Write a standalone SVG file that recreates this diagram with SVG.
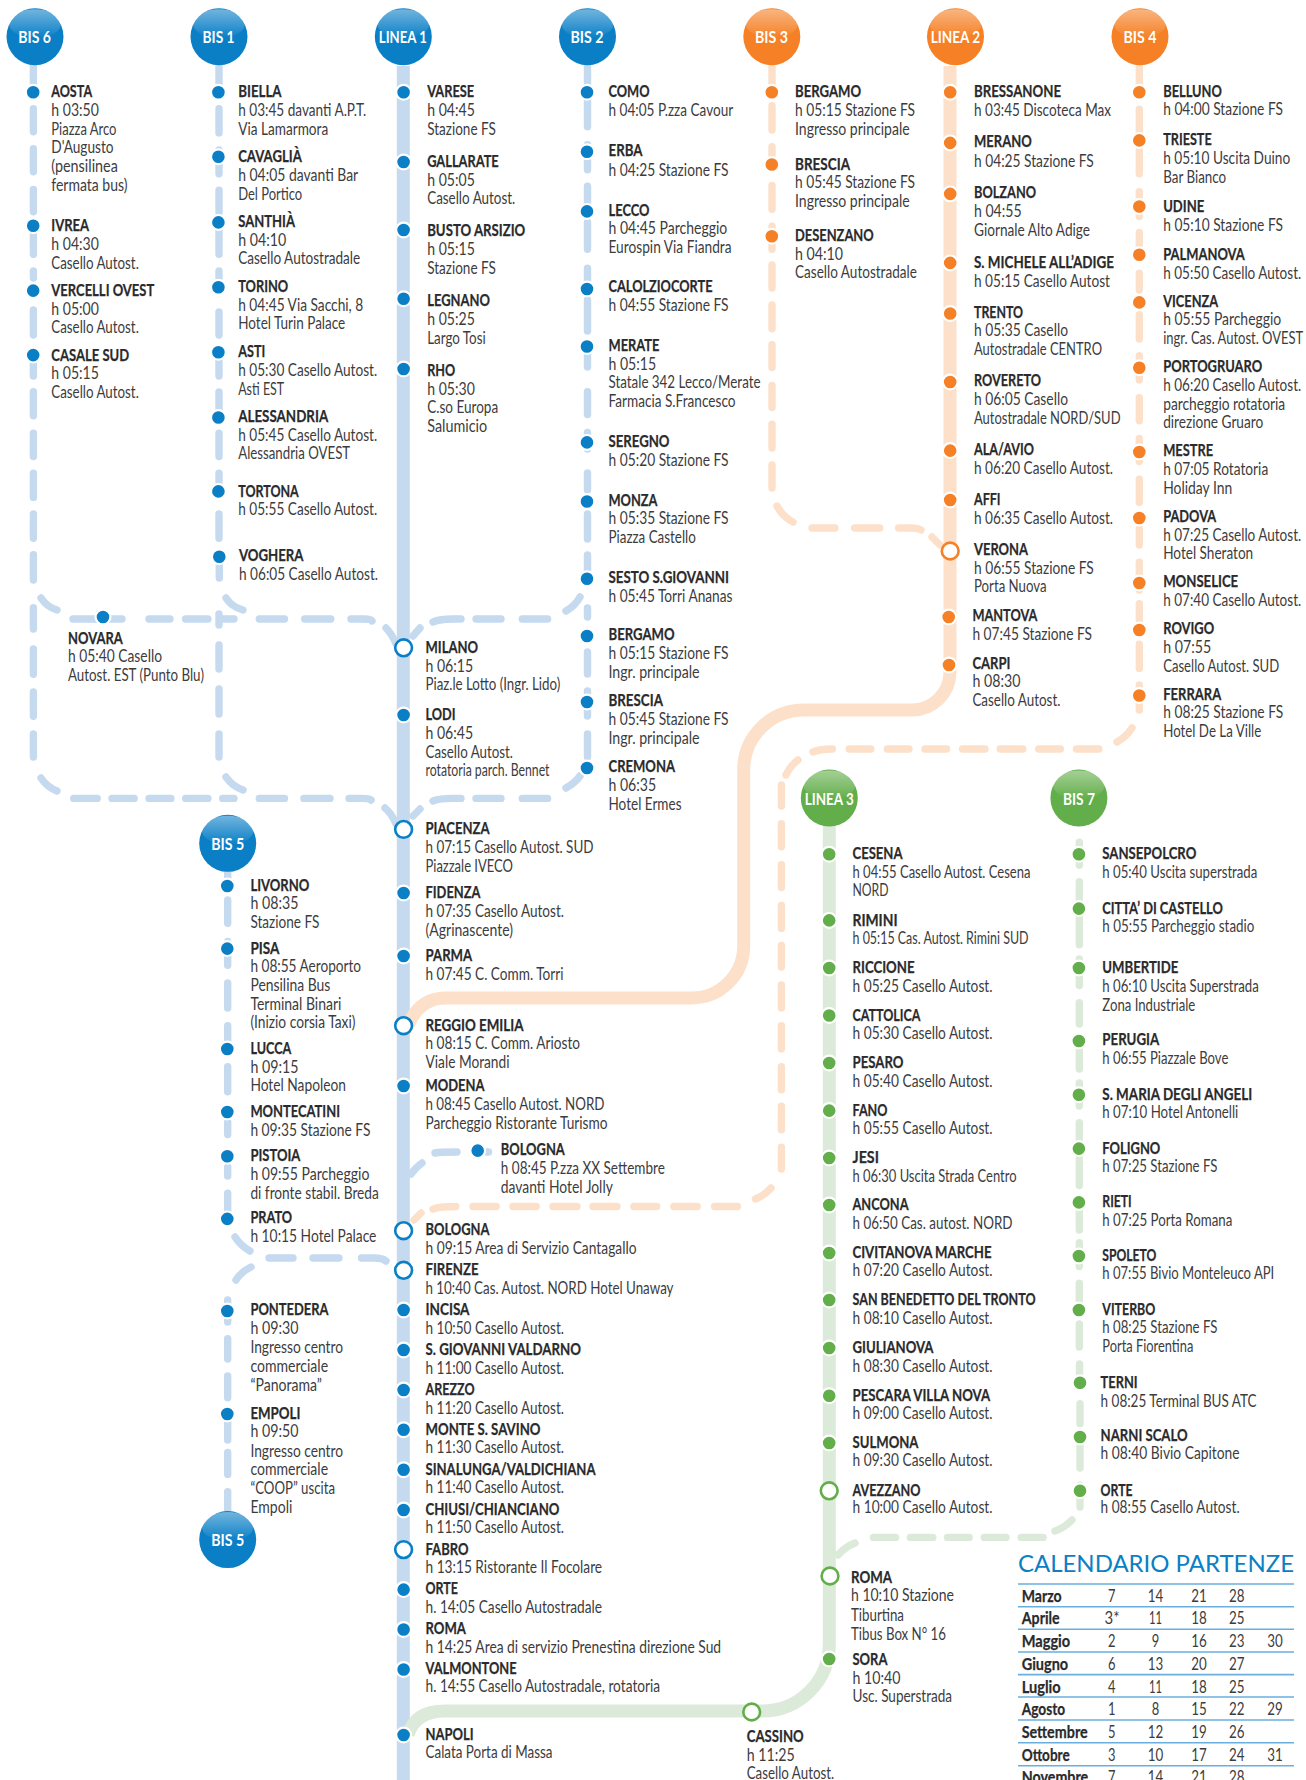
<svg xmlns="http://www.w3.org/2000/svg" width="1306" height="1780" viewBox="0 0 1306 1780">
<style>
text{font-family:Lato,"Open Sans","Liberation Sans",sans-serif;fill:#3c3c3e;font-size:17px;transform:translateY(-.5px)}
.n{font-weight:700;fill:#2a2a2c;stroke:#2a2a2c;stroke-width:.25}
.h{font-weight:700;fill:#fff;font-size:17.5px;text-anchor:middle}
.c{text-anchor:middle}
.dash,.solid{fill:none}
.dash{stroke-width:7.4;stroke-linecap:round;stroke-linejoin:round}
.solid{stroke-width:13}
.lb{stroke:#c5d9ef}.lo{stroke:#fde0c9}.lg{stroke:#dceada}
.b{fill:#0a7fc6}.o{fill:#f58025}.g{fill:#62ae4a}
.dot{stroke:#fff;stroke-width:2.2}
.ring{fill:#fff;stroke-width:2.6}
.rb{stroke:#0a7fc6}.ro{stroke:#f58025}.rg{stroke:#62ae4a}
.rule{stroke:#6aaee0;stroke-width:1.6}
</style>
<defs>
<linearGradient id="gl" x1="0" y1="0" x2="0" y2="1"><stop offset="0" stop-color="#fff" stop-opacity=".42"/><stop offset="1" stop-color="#fff" stop-opacity="0"/></linearGradient>
<g id="gloss"><ellipse cx="0" cy="-13" rx="26" ry="14.5" fill="url(#gl)"/></g>
</defs>
<g id="connectors">
<path class="solid lb" d="M403.3 66V1780"/>
<path class="solid lo" d="M950 66V672A38 38 0 0 1 912 710H803.7A60 60 0 0 0 743.7 770V946A52 52 0 0 1 691.7 998H445Q420 998 408 1025"/>
<path class="solid lg" d="M829.3 826V1644A67 67 0 0 1 762.3 1711H445Q415 1711 408 1735"/>
<path id="bis6" class="dash lb" d="M33.4 66V92M33.4 108.7V131.7M33.4 148.7V171.7M33.4 189.5V211.7M33.4 226V254.2M33.4 271V278M33.4 310V335M33.4 355V376M33.4 391.6V415.8M33.4 433.2V456.6M33.4 473.2V497.4M33.4 514V538.2M33.4 554.8V580M33.4 607.8V629M33.4 649V674.2M33.4 692V716.2M33.4 734V757M41 778Q47 787 57 791M41 598Q47 607 57 610"/>
<path id="top-h" class="dash lb" d="M73 619H122M149 619H170M185.6 619H207.9M222.7 619H234M259.3 619H284.5M304.7 619H330.8M351 619H364Q371 619 372 621M386 628Q392 634 396 644M413 636L420 628M433 622Q440 619 452 619H461M476 619H501M522.3 619H547.6M566 611Q575 606 580 597"/>
<path id="bot-h" class="dash lb" d="M73.7 798.4H97.2M112 798.4H134.2M149 798.4H170.9M185.6 798.4H207.9M222.7 798.4H234M259.3 798.4H284.5M303.9 798.4H330M349 798.4H362Q369 798.4 371 800M385 808Q392 814 396 824M413 816L420 809M433 801Q440 798.4 452 798.4H461M476 798.4H501M522.3 798.4H547.6M566 788Q575 783 580 776"/>
<path id="bis1" class="dash lb" d="M219 66V92M219 108.7V132.9M219 149.9V173.8M219 190.3V212.5M219 222V254.2M219 271V278M219 312V335M219 352V376M219 392V414.6M219 433.2V456.6M219 473.2V482M219 514V538.2M219.3 557V578M219 614V625M219 645V669M219 689V714M219 734V757M226 598Q232 607 243 610M226 777Q232 786 243 790"/>
<path id="bis2" class="dash lb" d="M587.5 66V92M587.5 99.7V126.8M587.5 144.6V169.7M587.5 186.2V204M587.5 222.2V249.3M587.5 268.3V281M587.5 300V331M587.5 347V367M587.5 391.6V414.6M587.5 432.4V449M587.5 473V490M587.5 514V539M587.5 555V575M587.5 608V617M587.5 652V674M587.5 691V716M587.5 734V757"/>
<path id="bis3" class="dash lo" d="M772 66V92M772 105.8V130M772 146.7V167.6M772 185.4V209.3M772 226.2V249.3M772 265V288M772 305V328.8M772 344.6V367.6M772 385.4V407.6M772 424.2V448M772 465V488M777 506Q783 517 793 522M812 528H835M854.6 528H879.7M898.6 528H910Q918 528 921 530M932 537L940 545"/>
<path id="bis4" class="dash lo" d="M1139.3 66V92M1139.3 109.1V135M1139.3 150.8V173.8M1139.3 191.6V216.6M1139.3 232.4V247M1139.3 273.2V290M1139.3 314.8V339M1139.3 355.6V379.9M1139.3 397.7V420.7M1139.3 438.5V461.5M1139.3 479.3V502.3M1139.3 528.6V545M1139.3 562.2V590M1139.3 603.8V620M1139.3 644.2V668.4M1139.3 685V710M1132 728Q1126 737 1117 742M1098.9 749H1076.4M1060.4 749H1038.7M1022.8 749H1000.2M985 749H962.6M946.6 749H925M909 749H887.3M870.9 749H849.2M832.4 749Q820 749 813 752M798 760Q790 766 786 775M781.4 785V806M781.4 823.8V846.8M781.4 864.6V887.6M781.4 905.4V928.4M781.4 945.4V967M781.4 985V1008M781.4 1025.8V1048.9M781.4 1066.7V1089.7M781.4 1106.2V1129.7M781.4 1147.1V1169M771 1188Q765 1195 755.5 1199M737.4 1206.5H714.5M697.2 1206.5H673.8M656.7 1206.5H633.8M617 1206.5H593M577 1206.5H553M536.2 1206.5H513M496.2 1206.5H473M455.8 1206.5Q438 1206.5 433 1209M421 1213L414 1220"/>
<path id="bis5" class="dash lb" d="M227.7 871V886M227.7 900V923.2M227.7 941.4V965.2M227.7 983V1008M227.7 1025.8V1049M227.7 1066.7V1091.7M227.7 1122V1134.6M227.7 1167V1176M227.7 1193.2V1219M235 1237Q241 1246 250 1251M269 1258H293M313 1258H339M361.5 1258H375Q382 1258 386 1261M251 1267Q241 1272 236 1280M227.7 1300V1322M227.7 1338.8V1359M227.7 1376V1397.8M227.7 1414V1440M227.7 1452.4V1474.4M227.7 1491.6V1515"/>
<path id="bologna-branch" class="dash lb" d="M411 1174Q416 1167 422 1163M435 1153Q440 1152 457 1152M487 1152H488.5"/>
<path id="bis7" class="dash lg" d="M1079.3 842.2V865.2M1079.3 881.8V944.8M1079.3 959V985.6M1079.3 1002.6V1024M1079.3 1041V1069M1079.3 1083V1106M1079.3 1122.6V1148M1079.3 1158.8V1185.6M1079.3 1202V1230M1079.3 1242.6V1266.5M1079.3 1283.3V1305M1079.3 1324V1347M1079.5 1364V1380M1080 1403.6V1423.7M1080 1440V1468M1080 1485V1507M1072 1520Q1064 1528 1055 1531M1043 1537.4H1021.2M1006 1537.4H984.3M969.2 1537.4H947.5M932.8 1537.4H910.3M895.6 1537.4H873.5M855 1543Q845 1547 838 1555"/>
</g>
<g id="head-bis6"><circle class="b" cx="35" cy="36.7" r="28.5"/><use href="#gloss" x="35" y="36.7"/><text class="h" x="34.6" y="43.7" textLength="32.7" lengthAdjust="spacingAndGlyphs">BIS 6</text></g>
<g id="head-bis1"><circle class="b" cx="219" cy="36.7" r="28.5"/><use href="#gloss" x="219" y="36.7"/><text class="h" x="218.5" y="43.7" textLength="32" lengthAdjust="spacingAndGlyphs">BIS 1</text></g>
<g id="head-linea1"><circle class="b" cx="403.3" cy="36.7" r="28.5"/><use href="#gloss" x="403.3" y="36.7"/><text class="h" x="402.8" y="43.7" textLength="48" lengthAdjust="spacingAndGlyphs">LINEA 1</text></g>
<g id="head-bis2"><circle class="b" cx="587.5" cy="36.7" r="28.5"/><use href="#gloss" x="587.5" y="36.7"/><text class="h" x="587" y="43.7" textLength="33" lengthAdjust="spacingAndGlyphs">BIS 2</text></g>
<g id="head-bis3"><circle class="o" cx="771.8" cy="36.7" r="28.5"/><use href="#gloss" x="771.8" y="36.7"/><text class="h" x="771.5" y="43.7" textLength="33" lengthAdjust="spacingAndGlyphs">BIS 3</text></g>
<g id="head-linea2"><circle class="o" cx="955.5" cy="36.7" r="28.5"/><use href="#gloss" x="955.5" y="36.7"/><text class="h" x="955.5" y="43.7" textLength="49.4" lengthAdjust="spacingAndGlyphs">LINEA 2</text></g>
<g id="head-bis4"><circle class="o" cx="1140" cy="36.7" r="28.5"/><use href="#gloss" x="1140" y="36.7"/><text class="h" x="1140" y="43.7" textLength="33" lengthAdjust="spacingAndGlyphs">BIS 4</text></g>
<g id="head-bis5a"><circle class="b" cx="227.7" cy="843.3" r="28.5"/><use href="#gloss" x="227.7" y="843.3"/><text class="h" x="227.7" y="850" textLength="33" lengthAdjust="spacingAndGlyphs">BIS 5</text></g>
<g id="head-bis5b"><circle class="b" cx="227.7" cy="1539.6" r="28.5"/><use href="#gloss" x="227.7" y="1539.6"/><text class="h" x="227.7" y="1546.5" textLength="33" lengthAdjust="spacingAndGlyphs">BIS 5</text></g>
<g id="head-linea3"><circle class="g" cx="829.3" cy="798" r="28.5"/><use href="#gloss" x="829.3" y="798"/><text class="h" x="829.3" y="805" textLength="49" lengthAdjust="spacingAndGlyphs">LINEA 3</text></g>
<g id="head-bis7"><circle class="g" cx="1078.9" cy="798" r="28.5"/><use href="#gloss" x="1078.9" y="798"/><text class="h" x="1078.9" y="805" textLength="32" lengthAdjust="spacingAndGlyphs">BIS 7</text></g>

<g id="aosta"><circle class="dot b" cx="33.2" cy="92.2" r="7.4"/><text class="n" x="51.3" y="97" textLength="40.8" lengthAdjust="spacingAndGlyphs">AOSTA</text><text x="51.3" y="116" textLength="47.6" lengthAdjust="spacingAndGlyphs">h 03:50</text><text x="51.3" y="135.5" textLength="65.2" lengthAdjust="spacingAndGlyphs">Piazza Arco</text><text x="51.3" y="153.5" textLength="62.3" lengthAdjust="spacingAndGlyphs">D'Augusto</text><text x="51.3" y="172.2" textLength="66.5" lengthAdjust="spacingAndGlyphs">(pensilinea</text><text x="51.3" y="191" textLength="76.2" lengthAdjust="spacingAndGlyphs">fermata bus)</text></g>
<g id="ivrea"><circle class="dot b" cx="33.2" cy="225.7" r="7.4"/><text class="n" x="51.3" y="231" textLength="37.9" lengthAdjust="spacingAndGlyphs">IVREA</text><text x="51.3" y="250" textLength="47.6" lengthAdjust="spacingAndGlyphs">h 04:30</text><text x="51.3" y="269.4" textLength="87.5" lengthAdjust="spacingAndGlyphs">Casello Autost.</text></g>
<g id="vercelli"><circle class="dot b" cx="33.2" cy="290.6" r="7.4"/><text class="n" x="51.3" y="296.3" textLength="103" lengthAdjust="spacingAndGlyphs">VERCELLI OVEST</text><text x="51.3" y="315" textLength="47.6" lengthAdjust="spacingAndGlyphs">h 05:00</text><text x="51.3" y="333.5" textLength="87.5" lengthAdjust="spacingAndGlyphs">Casello Autost.</text></g>
<g id="casale"><circle class="dot b" cx="33.2" cy="355.1" r="7.4"/><text class="n" x="51.3" y="361" textLength="77.9" lengthAdjust="spacingAndGlyphs">CASALE SUD</text><text x="51.3" y="379.6" textLength="47.6" lengthAdjust="spacingAndGlyphs">h 05:15</text><text x="51.3" y="398" textLength="87.5" lengthAdjust="spacingAndGlyphs">Casello Autost.</text></g>
<g id="novara"><circle class="dot b" cx="103" cy="617" r="7.4"/><text class="n" x="68" y="644.5" textLength="54.7" lengthAdjust="spacingAndGlyphs">NOVARA</text><text x="68" y="662.4" textLength="94" lengthAdjust="spacingAndGlyphs">h 05:40 Casello</text><text x="68" y="681" textLength="136" lengthAdjust="spacingAndGlyphs">Autost. EST (Punto Blu)</text></g>

<g id="biella"><circle class="dot b" cx="218.4" cy="92.2" r="7.4"/><text class="n" x="238.2" y="97" textLength="43.4" lengthAdjust="spacingAndGlyphs">BIELLA</text><text x="238.2" y="116" textLength="128" lengthAdjust="spacingAndGlyphs">h 03:45 davanti A.P.T.</text><text x="238.2" y="135" textLength="90" lengthAdjust="spacingAndGlyphs">Via Lamarmora</text></g>
<g id="cavaglia"><circle class="dot b" cx="218.4" cy="156.7" r="7.4"/><text class="n" x="238.2" y="162" textLength="63.6" lengthAdjust="spacingAndGlyphs">CAVAGLIÀ</text><text x="238.2" y="181" textLength="120" lengthAdjust="spacingAndGlyphs">h 04:05 davanti Bar</text><text x="238.2" y="200" textLength="64" lengthAdjust="spacingAndGlyphs">Del Portico</text></g>
<g id="santhia"><circle class="dot b" cx="218.4" cy="222.4" r="7.4"/><text class="n" x="238.2" y="227" textLength="56.8" lengthAdjust="spacingAndGlyphs">SANTHIÀ</text><text x="238.2" y="246" textLength="48" lengthAdjust="spacingAndGlyphs">h 04:10</text><text x="238.2" y="264.5" textLength="122" lengthAdjust="spacingAndGlyphs">Casello Autostradale</text></g>
<g id="torino"><circle class="dot b" cx="218.4" cy="287.3" r="7.4"/><text class="n" x="238.2" y="292" textLength="50" lengthAdjust="spacingAndGlyphs">TORINO</text><text x="238.2" y="311" textLength="125" lengthAdjust="spacingAndGlyphs">h 04:45 Via Sacchi, 8</text><text x="238.2" y="329" textLength="107" lengthAdjust="spacingAndGlyphs">Hotel Turin Palace</text></g>
<g id="asti"><circle class="dot b" cx="218.4" cy="352.2" r="7.4"/><text class="n" x="238.2" y="357" textLength="27" lengthAdjust="spacingAndGlyphs">ASTI</text><text x="238.2" y="376" textLength="139" lengthAdjust="spacingAndGlyphs">h 05:30 Casello Autost.</text><text x="238.2" y="395" textLength="46" lengthAdjust="spacingAndGlyphs">Asti EST</text></g>
<g id="alessandria"><circle class="dot b" cx="218.4" cy="417.5" r="7.4"/><text class="n" x="238.2" y="422" textLength="90" lengthAdjust="spacingAndGlyphs">ALESSANDRIA</text><text x="238.2" y="441" textLength="139" lengthAdjust="spacingAndGlyphs">h 05:45 Casello Autost.</text><text x="238.2" y="459" textLength="112" lengthAdjust="spacingAndGlyphs">Alessandria OVEST</text></g>
<g id="tortona"><circle class="dot b" cx="218.4" cy="491.4" r="7.4"/><text class="n" x="238.2" y="497" textLength="60.6" lengthAdjust="spacingAndGlyphs">TORTONA</text><text x="238.2" y="515" textLength="139" lengthAdjust="spacingAndGlyphs">h 05:55 Casello Autost.</text></g>
<g id="voghera"><circle class="dot b" cx="219.3" cy="556.7" r="7.4"/><text class="n" x="239" y="561" textLength="64.5" lengthAdjust="spacingAndGlyphs">VOGHERA</text><text x="239" y="580" textLength="139" lengthAdjust="spacingAndGlyphs">h 06:05 Casello Autost.</text></g>

<g id="varese"><circle class="dot b" cx="403.6" cy="92.2" r="7.4"/><text class="n" x="427.2" y="97" textLength="47" lengthAdjust="spacingAndGlyphs">VARESE</text><text x="427.2" y="116" textLength="47.6" lengthAdjust="spacingAndGlyphs">h 04:45</text><text x="427.2" y="135" textLength="68.6" lengthAdjust="spacingAndGlyphs">Stazione FS</text></g>
<g id="gallarate"><circle class="dot b" cx="403.6" cy="162" r="7.4"/><text class="n" x="427.2" y="167" textLength="71.5" lengthAdjust="spacingAndGlyphs">GALLARATE</text><text x="427.2" y="186" textLength="47.6" lengthAdjust="spacingAndGlyphs">h 05:05</text><text x="427.2" y="204" textLength="88" lengthAdjust="spacingAndGlyphs">Casello Autost.</text></g>
<g id="busto"><circle class="dot b" cx="403.6" cy="230" r="7.4"/><text class="n" x="427.2" y="236.7" textLength="98" lengthAdjust="spacingAndGlyphs">BUSTO ARSIZIO</text><text x="427.2" y="255" textLength="47.6" lengthAdjust="spacingAndGlyphs">h 05:15</text><text x="427.2" y="274" textLength="68.6" lengthAdjust="spacingAndGlyphs">Stazione FS</text></g>
<g id="legnano"><circle class="dot b" cx="403.6" cy="298.8" r="7.4"/><text class="n" x="427.2" y="306" textLength="62.7" lengthAdjust="spacingAndGlyphs">LEGNANO</text><text x="427.2" y="325" textLength="47.6" lengthAdjust="spacingAndGlyphs">h 05:25</text><text x="427.2" y="344" textLength="58.5" lengthAdjust="spacingAndGlyphs">Largo Tosi</text></g>
<g id="rho"><circle class="dot b" cx="403.6" cy="369" r="7.4"/><text class="n" x="427.2" y="376" textLength="28" lengthAdjust="spacingAndGlyphs">RHO</text><text x="427.2" y="395" textLength="47.6" lengthAdjust="spacingAndGlyphs">h 05:30</text><text x="427.2" y="413.5" textLength="71" lengthAdjust="spacingAndGlyphs">C.so Europa</text><text x="427.2" y="432" textLength="60" lengthAdjust="spacingAndGlyphs">Salumicio</text></g>
<g id="milano"><circle class="ring rb" cx="403.6" cy="647.8" r="8.4"/><text class="n" x="425.5" y="653.5" textLength="52.6" lengthAdjust="spacingAndGlyphs">MILANO</text><text x="425.5" y="672" textLength="47.6" lengthAdjust="spacingAndGlyphs">h 06:15</text><text x="425.5" y="690.6" textLength="134.7" lengthAdjust="spacingAndGlyphs">Piaz.le Lotto (Ingr. Lido)</text></g>
<g id="lodi"><circle class="dot b" cx="403.6" cy="715" r="7.4"/><text class="n" x="425.5" y="720.4" textLength="30" lengthAdjust="spacingAndGlyphs">LODI</text><text x="425.5" y="739" textLength="47.6" lengthAdjust="spacingAndGlyphs">h 06:45</text><text x="425.5" y="758" textLength="87.5" lengthAdjust="spacingAndGlyphs">Casello Autost.</text><text x="425.5" y="776.7" textLength="124" lengthAdjust="spacingAndGlyphs">rotatoria parch. Bennet</text></g>
<g id="piacenza"><circle class="ring rb" cx="403.6" cy="829.4" r="8.4"/><text class="n" x="425.5" y="834.3" textLength="64" lengthAdjust="spacingAndGlyphs">PIACENZA</text><text x="425.5" y="853" textLength="168" lengthAdjust="spacingAndGlyphs">h 07:15 Casello Autost. SUD</text><text x="425.5" y="872" textLength="87.5" lengthAdjust="spacingAndGlyphs">Piazzale IVECO</text></g>
<g id="fidenza"><circle class="dot b" cx="403.6" cy="893" r="7.4"/><text class="n" x="425.5" y="898" textLength="55" lengthAdjust="spacingAndGlyphs">FIDENZA</text><text x="425.5" y="917" textLength="138.5" lengthAdjust="spacingAndGlyphs">h 07:35 Casello Autost.</text><text x="425.5" y="936" textLength="87.5" lengthAdjust="spacingAndGlyphs">(Agrinascente)</text></g>
<g id="parma"><circle class="dot b" cx="403.6" cy="956" r="7.4"/><text class="n" x="425.5" y="961" textLength="46.7" lengthAdjust="spacingAndGlyphs">PARMA</text><text x="425.5" y="980.4" textLength="138" lengthAdjust="spacingAndGlyphs">h 07:45 C. Comm. Torri</text></g>
<g id="reggio"><circle class="ring rb" cx="403.6" cy="1025.7" r="8.4"/><text class="n" x="425.5" y="1031.4" textLength="98" lengthAdjust="spacingAndGlyphs">REGGIO EMILIA</text><text x="425.5" y="1049.5" textLength="154.5" lengthAdjust="spacingAndGlyphs">h 08:15 C. Comm. Ariosto</text><text x="425.5" y="1068.6" textLength="84" lengthAdjust="spacingAndGlyphs">Viale Morandi</text></g>
<g id="modena"><circle class="dot b" cx="403.6" cy="1086" r="7.4"/><text class="n" x="425.5" y="1091.4" textLength="59" lengthAdjust="spacingAndGlyphs">MODENA</text><text x="425.5" y="1110" textLength="179" lengthAdjust="spacingAndGlyphs">h 08:45 Casello Autost. NORD</text><text x="425.5" y="1129" textLength="182" lengthAdjust="spacingAndGlyphs">Parcheggio Ristorante Turismo</text></g>
<g id="bologna-b"><circle class="dot b" cx="477.7" cy="1150.6" r="7.4"/><text class="n" x="500.8" y="1155.5" textLength="64" lengthAdjust="spacingAndGlyphs">BOLOGNA</text><text x="500.8" y="1174" textLength="164" lengthAdjust="spacingAndGlyphs">h 08:45 P.zza XX Settembre</text><text x="500.8" y="1193.5" textLength="112" lengthAdjust="spacingAndGlyphs">davanti Hotel Jolly</text></g>
<g id="bologna"><circle class="ring rb" cx="403.6" cy="1230.7" r="8.4"/><text class="n" x="425.5" y="1235" textLength="64" lengthAdjust="spacingAndGlyphs">BOLOGNA</text><text x="425.5" y="1254" textLength="211" lengthAdjust="spacingAndGlyphs">h 09:15 Area di Servizio Cantagallo</text></g>
<g id="firenze"><circle class="ring rb" cx="403.6" cy="1270.3" r="8.4"/><text class="n" x="425.5" y="1275" textLength="53" lengthAdjust="spacingAndGlyphs">FIRENZE</text><text x="425.5" y="1294" textLength="248" lengthAdjust="spacingAndGlyphs">h 10:40 Cas. Autost. NORD Hotel Unaway</text></g>
<g id="incisa"><circle class="dot b" cx="403.6" cy="1310" r="7.4"/><text class="n" x="425.5" y="1315.4" textLength="44" lengthAdjust="spacingAndGlyphs">INCISA</text><text x="425.5" y="1334" textLength="138.5" lengthAdjust="spacingAndGlyphs">h 10:50 Casello Autost.</text></g>
<g id="sgiovanni"><circle class="dot b" cx="403.6" cy="1350" r="7.4"/><text class="n" x="425.5" y="1355.4" textLength="155.5" lengthAdjust="spacingAndGlyphs">S. GIOVANNI VALDARNO</text><text x="425.5" y="1374" textLength="138.5" lengthAdjust="spacingAndGlyphs">h 11:00 Casello Autost.</text></g>
<g id="arezzo"><circle class="dot b" cx="403.6" cy="1390" r="7.4"/><text class="n" x="425.5" y="1395" textLength="49" lengthAdjust="spacingAndGlyphs">AREZZO</text><text x="425.5" y="1414" textLength="138.5" lengthAdjust="spacingAndGlyphs">h 11:20 Casello Autost.</text></g>
<g id="monte"><circle class="dot b" cx="403.6" cy="1429.7" r="7.4"/><text class="n" x="425.5" y="1435" textLength="115" lengthAdjust="spacingAndGlyphs">MONTE S. SAVINO</text><text x="425.5" y="1453.4" textLength="138.5" lengthAdjust="spacingAndGlyphs">h 11:30 Casello Autost.</text></g>
<g id="sinalunga"><circle class="dot b" cx="403.6" cy="1469.7" r="7.4"/><text class="n" x="425.5" y="1475" textLength="170" lengthAdjust="spacingAndGlyphs">SINALUNGA/VALDICHIANA</text><text x="425.5" y="1493" textLength="138.5" lengthAdjust="spacingAndGlyphs">h 11:40 Casello Autost.</text></g>
<g id="chiusi"><circle class="dot b" cx="403.6" cy="1510" r="7.4"/><text class="n" x="425.5" y="1515" textLength="134" lengthAdjust="spacingAndGlyphs">CHIUSI/CHIANCIANO</text><text x="425.5" y="1533" textLength="138.5" lengthAdjust="spacingAndGlyphs">h 11:50 Casello Autost.</text></g>
<g id="fabro"><circle class="ring rb" cx="403.6" cy="1549.6" r="8.4"/><text class="n" x="425.5" y="1555" textLength="43" lengthAdjust="spacingAndGlyphs">FABRO</text><text x="425.5" y="1573" textLength="176.6" lengthAdjust="spacingAndGlyphs">h 13:15 Ristorante Il Focolare</text></g>
<g id="orte1"><circle class="dot b" cx="403.6" cy="1589.6" r="7.4"/><text class="n" x="425.5" y="1594.4" textLength="32.4" lengthAdjust="spacingAndGlyphs">ORTE</text><text x="425.5" y="1613" textLength="176.6" lengthAdjust="spacingAndGlyphs">h. 14:05 Casello Autostradale</text></g>
<g id="roma1"><circle class="dot b" cx="403.6" cy="1629.5" r="7.4"/><text class="n" x="425.5" y="1634" textLength="40.4" lengthAdjust="spacingAndGlyphs">ROMA</text><text x="425.5" y="1653" textLength="295.6" lengthAdjust="spacingAndGlyphs">h 14:25 Area di servizio Prenestina direzione Sud</text></g>
<g id="valmontone"><circle class="dot b" cx="403.6" cy="1669.5" r="7.4"/><text class="n" x="425.5" y="1674.3" textLength="91" lengthAdjust="spacingAndGlyphs">VALMONTONE</text><text x="425.5" y="1692.8" textLength="234.6" lengthAdjust="spacingAndGlyphs">h. 14:55 Casello Autostradale, rotatoria</text></g>
<g id="napoli"><circle class="dot b" cx="403.6" cy="1735" r="7.4"/><text class="n" x="425.5" y="1740" textLength="48" lengthAdjust="spacingAndGlyphs">NAPOLI</text><text x="425.5" y="1758.6" textLength="127" lengthAdjust="spacingAndGlyphs">Calata Porta di Massa</text></g>

<g id="como"><circle class="dot b" cx="587" cy="92.2" r="7.4"/><text class="n" x="608.5" y="97" textLength="41" lengthAdjust="spacingAndGlyphs">COMO</text><text x="608.5" y="116" textLength="124.7" lengthAdjust="spacingAndGlyphs">h 04:05 P.zza Cavour</text></g>
<g id="erba"><circle class="dot b" cx="587" cy="151.8" r="7.4"/><text class="n" x="608.5" y="156.7" textLength="34" lengthAdjust="spacingAndGlyphs">ERBA</text><text x="608.5" y="176" textLength="120" lengthAdjust="spacingAndGlyphs">h 04:25 Stazione FS</text></g>
<g id="lecco"><circle class="dot b" cx="587" cy="211.4" r="7.4"/><text class="n" x="608.5" y="216.3" textLength="41" lengthAdjust="spacingAndGlyphs">LECCO</text><text x="608.5" y="234.3" textLength="118.8" lengthAdjust="spacingAndGlyphs">h 04:45 Parcheggio</text><text x="608.5" y="253" textLength="123" lengthAdjust="spacingAndGlyphs">Eurospin Via Fiandra</text></g>
<g id="calolzio"><circle class="dot b" cx="587" cy="289" r="7.4"/><text class="n" x="608.5" y="292" textLength="104" lengthAdjust="spacingAndGlyphs">CALOLZIOCORTE</text><text x="608.5" y="311" textLength="120" lengthAdjust="spacingAndGlyphs">h 04:55 Stazione FS</text></g>
<g id="merate"><circle class="dot b" cx="587" cy="346.5" r="7.4"/><text class="n" x="608.5" y="351" textLength="51" lengthAdjust="spacingAndGlyphs">MERATE</text><text x="608.5" y="370" textLength="47.6" lengthAdjust="spacingAndGlyphs">h 05:15</text><text x="608.5" y="388" textLength="152" lengthAdjust="spacingAndGlyphs">Statale 342 Lecco/Merate</text><text x="608.5" y="407" textLength="127" lengthAdjust="spacingAndGlyphs">Farmacia S.Francesco</text></g>
<g id="seregno"><circle class="dot b" cx="587" cy="442.4" r="7.4"/><text class="n" x="608.5" y="447" textLength="61" lengthAdjust="spacingAndGlyphs">SEREGNO</text><text x="608.5" y="466" textLength="120" lengthAdjust="spacingAndGlyphs">h 05:20 Stazione FS</text></g>
<g id="monza"><circle class="dot b" cx="587" cy="501.5" r="7.4"/><text class="n" x="608.5" y="506.5" textLength="49" lengthAdjust="spacingAndGlyphs">MONZA</text><text x="608.5" y="524" textLength="120" lengthAdjust="spacingAndGlyphs">h 05:35 Stazione FS</text><text x="608.5" y="543" textLength="87.4" lengthAdjust="spacingAndGlyphs">Piazza Castello</text></g>
<g id="sesto"><circle class="dot b" cx="587" cy="578.8" r="7.4"/><text class="n" x="608.5" y="583.5" textLength="120.5" lengthAdjust="spacingAndGlyphs">SESTO S.GIOVANNI</text><text x="608.5" y="602" textLength="124" lengthAdjust="spacingAndGlyphs">h 05:45 Torri Ananas</text></g>
<g id="bergamo2"><circle class="dot b" cx="587" cy="636" r="7.4"/><text class="n" x="608.5" y="640.4" textLength="66" lengthAdjust="spacingAndGlyphs">BERGAMO</text><text x="608.5" y="659" textLength="120" lengthAdjust="spacingAndGlyphs">h 05:15 Stazione FS</text><text x="608.5" y="678" textLength="91" lengthAdjust="spacingAndGlyphs">Ingr. principale</text></g>
<g id="brescia2"><circle class="dot b" cx="587" cy="702" r="7.4"/><text class="n" x="608.5" y="706.5" textLength="54.4" lengthAdjust="spacingAndGlyphs">BRESCIA</text><text x="608.5" y="725" textLength="120" lengthAdjust="spacingAndGlyphs">h 05:45 Stazione FS</text><text x="608.5" y="744" textLength="91" lengthAdjust="spacingAndGlyphs">Ingr. principale</text></g>
<g id="cremona"><circle class="dot b" cx="587" cy="768" r="7.4"/><text class="n" x="608.5" y="772" textLength="66.5" lengthAdjust="spacingAndGlyphs">CREMONA</text><text x="608.5" y="791.4" textLength="47.6" lengthAdjust="spacingAndGlyphs">h 06:35</text><text x="608.5" y="810" textLength="73" lengthAdjust="spacingAndGlyphs">Hotel Ermes</text></g>

<g id="bergamo3"><circle class="dot o" cx="771.8" cy="92.2" r="7.4"/><text class="n" x="795" y="97" textLength="66" lengthAdjust="spacingAndGlyphs">BERGAMO</text><text x="795" y="116" textLength="120" lengthAdjust="spacingAndGlyphs">h 05:15 Stazione FS</text><text x="795" y="135" textLength="114.6" lengthAdjust="spacingAndGlyphs">Ingresso principale</text></g>
<g id="brescia3"><circle class="dot o" cx="771.8" cy="164.5" r="7.4"/><text class="n" x="795" y="170" textLength="55" lengthAdjust="spacingAndGlyphs">BRESCIA</text><text x="795" y="188" textLength="120" lengthAdjust="spacingAndGlyphs">h 05:45 Stazione FS</text><text x="795" y="207" textLength="114.6" lengthAdjust="spacingAndGlyphs">Ingresso principale</text></g>
<g id="desenzano"><circle class="dot o" cx="771.8" cy="236.3" r="7.4"/><text class="n" x="795" y="241" textLength="78.7" lengthAdjust="spacingAndGlyphs">DESENZANO</text><text x="795" y="260" textLength="48" lengthAdjust="spacingAndGlyphs">h 04:10</text><text x="795" y="278" textLength="121.8" lengthAdjust="spacingAndGlyphs">Casello Autostradale</text></g>

<g id="bressanone"><circle class="dot o" cx="950.2" cy="92.2" r="7.4"/><text class="n" x="974" y="97" textLength="87" lengthAdjust="spacingAndGlyphs">BRESSANONE</text><text x="974" y="116" textLength="137" lengthAdjust="spacingAndGlyphs">h 03:45 Discoteca Max</text></g>
<g id="merano"><circle class="dot o" cx="950.2" cy="142.9" r="7.4"/><text class="n" x="974" y="147.8" textLength="57.7" lengthAdjust="spacingAndGlyphs">MERANO</text><text x="974" y="167" textLength="119.7" lengthAdjust="spacingAndGlyphs">h 04:25 Stazione FS</text></g>
<g id="bolzano"><circle class="dot o" cx="950.2" cy="193.9" r="7.4"/><text class="n" x="974" y="198" textLength="62" lengthAdjust="spacingAndGlyphs">BOLZANO</text><text x="974" y="217" textLength="47.6" lengthAdjust="spacingAndGlyphs">h 04:55</text><text x="974" y="236" textLength="116" lengthAdjust="spacingAndGlyphs">Giornale Alto Adige</text></g>
<g id="smichele"><circle class="dot o" cx="950.2" cy="262.9" r="7.4"/><text class="n" x="974" y="268" textLength="140" lengthAdjust="spacingAndGlyphs">S. MICHELE ALL’ADIGE</text><text x="974" y="287" textLength="136" lengthAdjust="spacingAndGlyphs">h 05:15 Casello Autost</text></g>
<g id="trento"><circle class="dot o" cx="950.2" cy="313.5" r="7.4"/><text class="n" x="974" y="318" textLength="49" lengthAdjust="spacingAndGlyphs">TRENTO</text><text x="974" y="336" textLength="94" lengthAdjust="spacingAndGlyphs">h 05:35 Casello</text><text x="974" y="355" textLength="128" lengthAdjust="spacingAndGlyphs">Autostradale CENTRO</text></g>
<g id="rovereto"><circle class="dot o" cx="950.2" cy="382" r="7.4"/><text class="n" x="974" y="386" textLength="67" lengthAdjust="spacingAndGlyphs">ROVERETO</text><text x="974" y="405" textLength="94" lengthAdjust="spacingAndGlyphs">h 06:05 Casello</text><text x="974" y="424" textLength="146.5" lengthAdjust="spacingAndGlyphs">Autostradale NORD/SUD</text></g>
<g id="ala"><circle class="dot o" cx="950.2" cy="450.6" r="7.4"/><text class="n" x="974" y="455" textLength="60" lengthAdjust="spacingAndGlyphs">ALA/AVIO</text><text x="974" y="474" textLength="139" lengthAdjust="spacingAndGlyphs">h 06:20 Casello Autost.</text></g>
<g id="affi"><circle class="dot o" cx="950.2" cy="500" r="7.4"/><text class="n" x="974" y="505" textLength="26.5" lengthAdjust="spacingAndGlyphs">AFFI</text><text x="974" y="524" textLength="139" lengthAdjust="spacingAndGlyphs">h 06:35 Casello Autost.</text></g>
<g id="verona"><circle class="ring ro" cx="950.2" cy="551" r="8.4"/><text class="n" x="974" y="555" textLength="54" lengthAdjust="spacingAndGlyphs">VERONA</text><text x="974" y="574" textLength="119.7" lengthAdjust="spacingAndGlyphs">h 06:55 Stazione FS</text><text x="974" y="592" textLength="72.5" lengthAdjust="spacingAndGlyphs">Porta Nuova</text></g>
<g id="mantova"><circle class="dot o" cx="948.7" cy="617" r="7.4"/><text class="n" x="972.4" y="621" textLength="65" lengthAdjust="spacingAndGlyphs">MANTOVA</text><text x="972.4" y="640.4" textLength="119.6" lengthAdjust="spacingAndGlyphs">h 07:45 Stazione FS</text></g>
<g id="carpi"><circle class="dot o" cx="949" cy="665" r="7.4"/><text class="n" x="972.4" y="669" textLength="38" lengthAdjust="spacingAndGlyphs">CARPI</text><text x="972.4" y="687.3" textLength="48" lengthAdjust="spacingAndGlyphs">h 08:30</text><text x="972.4" y="706.5" textLength="88" lengthAdjust="spacingAndGlyphs">Casello Autost.</text></g>

<g id="belluno"><circle class="dot o" cx="1139.3" cy="92.2" r="7.4"/><text class="n" x="1163.2" y="97.3" textLength="58.6" lengthAdjust="spacingAndGlyphs">BELLUNO</text><text x="1163.2" y="115.5" textLength="119.7" lengthAdjust="spacingAndGlyphs">h 04:00 Stazione FS</text></g>
<g id="trieste"><circle class="dot o" cx="1139.3" cy="140.4" r="7.4"/><text class="n" x="1163.2" y="145" textLength="48.5" lengthAdjust="spacingAndGlyphs">TRIESTE</text><text x="1163.2" y="164" textLength="127" lengthAdjust="spacingAndGlyphs">h 05:10 Uscita Duino</text><text x="1163.2" y="183" textLength="63" lengthAdjust="spacingAndGlyphs">Bar Bianco</text></g>
<g id="udine"><circle class="dot o" cx="1139.3" cy="206.5" r="7.4"/><text class="n" x="1163.2" y="212" textLength="41" lengthAdjust="spacingAndGlyphs">UDINE</text><text x="1163.2" y="231" textLength="119.7" lengthAdjust="spacingAndGlyphs">h 05:10 Stazione FS</text></g>
<g id="palmanova"><circle class="dot o" cx="1139.3" cy="254.7" r="7.4"/><text class="n" x="1163.2" y="260" textLength="81.6" lengthAdjust="spacingAndGlyphs">PALMANOVA</text><text x="1163.2" y="279" textLength="138" lengthAdjust="spacingAndGlyphs">h 05:50 Casello Autost.</text></g>
<g id="vicenza"><circle class="dot o" cx="1139.3" cy="302.4" r="7.4"/><text class="n" x="1163.2" y="307" textLength="55" lengthAdjust="spacingAndGlyphs">VICENZA</text><text x="1163.2" y="325" textLength="118" lengthAdjust="spacingAndGlyphs">h 05:55 Parcheggio</text><text x="1163.2" y="344" textLength="140" lengthAdjust="spacingAndGlyphs">ingr. Cas. Autost. OVEST</text></g>
<g id="portogruaro"><circle class="dot o" cx="1139.3" cy="367.8" r="7.4"/><text class="n" x="1163.2" y="372" textLength="99" lengthAdjust="spacingAndGlyphs">PORTOGRUARO</text><text x="1163.2" y="391" textLength="138" lengthAdjust="spacingAndGlyphs">h 06:20 Casello Autost.</text><text x="1163.2" y="410" textLength="122" lengthAdjust="spacingAndGlyphs">parcheggio rotatoria</text><text x="1163.2" y="428.6" textLength="100" lengthAdjust="spacingAndGlyphs">direzione Gruaro</text></g>
<g id="mestre"><circle class="dot o" cx="1139.3" cy="452" r="7.4"/><text class="n" x="1163.2" y="456" textLength="50" lengthAdjust="spacingAndGlyphs">MESTRE</text><text x="1163.2" y="475" textLength="105" lengthAdjust="spacingAndGlyphs">h 07:05 Rotatoria</text><text x="1163.2" y="494" textLength="69" lengthAdjust="spacingAndGlyphs">Holiday Inn</text></g>
<g id="padova"><circle class="dot o" cx="1139.3" cy="518" r="7.4"/><text class="n" x="1163.2" y="522.4" textLength="53" lengthAdjust="spacingAndGlyphs">PADOVA</text><text x="1163.2" y="541" textLength="138" lengthAdjust="spacingAndGlyphs">h 07:25 Casello Autost.</text><text x="1163.2" y="559.6" textLength="90" lengthAdjust="spacingAndGlyphs">Hotel Sheraton</text></g>
<g id="monselice"><circle class="dot o" cx="1139.3" cy="583" r="7.4"/><text class="n" x="1163.2" y="587" textLength="75" lengthAdjust="spacingAndGlyphs">MONSELICE</text><text x="1163.2" y="606.5" textLength="138" lengthAdjust="spacingAndGlyphs">h 07:40 Casello Autost.</text></g>
<g id="rovigo"><circle class="dot o" cx="1139.3" cy="630" r="7.4"/><text class="n" x="1163.2" y="634.2" textLength="51" lengthAdjust="spacingAndGlyphs">ROVIGO</text><text x="1163.2" y="653" textLength="48" lengthAdjust="spacingAndGlyphs">h 07:55</text><text x="1163.2" y="672" textLength="116" lengthAdjust="spacingAndGlyphs">Casello Autost. SUD</text></g>
<g id="ferrara"><circle class="dot o" cx="1139.3" cy="695.5" r="7.4"/><text class="n" x="1163.2" y="700.4" textLength="58" lengthAdjust="spacingAndGlyphs">FERRARA</text><text x="1163.2" y="718.4" textLength="120" lengthAdjust="spacingAndGlyphs">h 08:25 Stazione FS</text><text x="1163.2" y="737" textLength="98" lengthAdjust="spacingAndGlyphs">Hotel De La Ville</text></g>

<g id="livorno"><circle class="dot b" cx="227.3" cy="886" r="7.4"/><text class="n" x="250.4" y="891" textLength="59" lengthAdjust="spacingAndGlyphs">LIVORNO</text><text x="250.4" y="909.8" textLength="48" lengthAdjust="spacingAndGlyphs">h 08:35</text><text x="250.4" y="928" textLength="69" lengthAdjust="spacingAndGlyphs">Stazione FS</text></g>
<g id="pisa"><circle class="dot b" cx="227.3" cy="948.6" r="7.4"/><text class="n" x="250.4" y="954" textLength="29" lengthAdjust="spacingAndGlyphs">PISA</text><text x="250.4" y="972" textLength="110.7" lengthAdjust="spacingAndGlyphs">h 08:55 Aeroporto</text><text x="250.4" y="991.4" textLength="80" lengthAdjust="spacingAndGlyphs">Pensilina Bus</text><text x="250.4" y="1010" textLength="91" lengthAdjust="spacingAndGlyphs">Terminal Binari</text><text x="250.4" y="1028.6" textLength="105" lengthAdjust="spacingAndGlyphs">(Inizio corsia Taxi)</text></g>
<g id="lucca"><circle class="dot b" cx="227.3" cy="1049" r="7.4"/><text class="n" x="250.4" y="1054" textLength="41" lengthAdjust="spacingAndGlyphs">LUCCA</text><text x="250.4" y="1073" textLength="48" lengthAdjust="spacingAndGlyphs">h 09:15</text><text x="250.4" y="1091.4" textLength="95.6" lengthAdjust="spacingAndGlyphs">Hotel Napoleon</text></g>
<g id="montecatini"><circle class="dot b" cx="227.3" cy="1112" r="7.4"/><text class="n" x="250.4" y="1117" textLength="89.6" lengthAdjust="spacingAndGlyphs">MONTECATINI</text><text x="250.4" y="1136" textLength="120" lengthAdjust="spacingAndGlyphs">h 09:35 Stazione FS</text></g>
<g id="pistoia"><circle class="dot b" cx="227.3" cy="1156.3" r="7.4"/><text class="n" x="250.4" y="1161" textLength="50" lengthAdjust="spacingAndGlyphs">PISTOIA</text><text x="250.4" y="1180" textLength="119" lengthAdjust="spacingAndGlyphs">h 09:55 Parcheggio</text><text x="250.4" y="1199" textLength="128.4" lengthAdjust="spacingAndGlyphs">di fronte stabil. Breda</text></g>
<g id="prato"><circle class="dot b" cx="227.3" cy="1218.9" r="7.4"/><text class="n" x="250.4" y="1223.7" textLength="41.6" lengthAdjust="spacingAndGlyphs">PRATO</text><text x="250.4" y="1242.5" textLength="126" lengthAdjust="spacingAndGlyphs">h 10:15 Hotel Palace</text></g>
<g id="pontedera"><circle class="dot b" cx="227.3" cy="1311" r="7.4"/><text class="n" x="250.4" y="1315.8" textLength="78" lengthAdjust="spacingAndGlyphs">PONTEDERA</text><text x="250.4" y="1334.7" textLength="48" lengthAdjust="spacingAndGlyphs">h 09:30</text><text x="250.4" y="1353.5" textLength="92.6" lengthAdjust="spacingAndGlyphs">Ingresso centro</text><text x="250.4" y="1372" textLength="77.7" lengthAdjust="spacingAndGlyphs">commerciale</text><text x="250.4" y="1391" textLength="71.6" lengthAdjust="spacingAndGlyphs">“Panorama”</text></g>
<g id="empoli"><circle class="dot b" cx="227.3" cy="1414" r="7.4"/><text class="n" x="250.4" y="1419" textLength="50" lengthAdjust="spacingAndGlyphs">EMPOLI</text><text x="250.4" y="1437.5" textLength="48" lengthAdjust="spacingAndGlyphs">h 09:50</text><text x="250.4" y="1457" textLength="92.6" lengthAdjust="spacingAndGlyphs">Ingresso centro</text><text x="250.4" y="1475" textLength="77.7" lengthAdjust="spacingAndGlyphs">commerciale</text><text x="250.4" y="1494" textLength="84.6" lengthAdjust="spacingAndGlyphs">“COOP” uscita</text><text x="250.4" y="1513" textLength="42" lengthAdjust="spacingAndGlyphs">Empoli</text></g>

<g id="cesena"><circle class="dot g" cx="829.2" cy="854.3" r="7.4"/><text class="n" x="852.5" y="859.6" textLength="50" lengthAdjust="spacingAndGlyphs">CESENA</text><text x="852.5" y="878" textLength="178" lengthAdjust="spacingAndGlyphs">h 04:55 Casello Autost. Cesena</text><text x="852.5" y="896" textLength="36" lengthAdjust="spacingAndGlyphs">NORD</text></g>
<g id="rimini"><circle class="dot g" cx="829.2" cy="920.4" r="7.4"/><text class="n" x="852.5" y="926" textLength="45" lengthAdjust="spacingAndGlyphs">RIMINI</text><text x="852.5" y="944" textLength="176" lengthAdjust="spacingAndGlyphs">h 05:15 Cas. Autost. Rimini SUD</text></g>
<g id="riccione"><circle class="dot g" cx="829.2" cy="968" r="7.4"/><text class="n" x="852.5" y="973" textLength="62" lengthAdjust="spacingAndGlyphs">RICCIONE</text><text x="852.5" y="992" textLength="140" lengthAdjust="spacingAndGlyphs">h 05:25 Casello Autost.</text></g>
<g id="cattolica"><circle class="dot g" cx="829.2" cy="1015.5" r="7.4"/><text class="n" x="852.5" y="1021" textLength="68" lengthAdjust="spacingAndGlyphs">CATTOLICA</text><text x="852.5" y="1039" textLength="140" lengthAdjust="spacingAndGlyphs">h 05:30 Casello Autost.</text></g>
<g id="pesaro"><circle class="dot g" cx="829.2" cy="1063" r="7.4"/><text class="n" x="852.5" y="1068" textLength="51" lengthAdjust="spacingAndGlyphs">PESARO</text><text x="852.5" y="1087" textLength="140" lengthAdjust="spacingAndGlyphs">h 05:40 Casello Autost.</text></g>
<g id="fano"><circle class="dot g" cx="829.2" cy="1110.6" r="7.4"/><text class="n" x="852.5" y="1116" textLength="35" lengthAdjust="spacingAndGlyphs">FANO</text><text x="852.5" y="1134" textLength="140" lengthAdjust="spacingAndGlyphs">h 05:55 Casello Autost.</text></g>
<g id="jesi"><circle class="dot g" cx="829.2" cy="1158" r="7.4"/><text class="n" x="852.5" y="1163" textLength="26.4" lengthAdjust="spacingAndGlyphs">JESI</text><text x="852.5" y="1182" textLength="164" lengthAdjust="spacingAndGlyphs">h 06:30 Uscita Strada Centro</text></g>
<g id="ancona"><circle class="dot g" cx="829.2" cy="1205" r="7.4"/><text class="n" x="852.5" y="1210.6" textLength="56" lengthAdjust="spacingAndGlyphs">ANCONA</text><text x="852.5" y="1229" textLength="160" lengthAdjust="spacingAndGlyphs">h 06:50 Cas. autost. NORD</text></g>
<g id="civitanova"><circle class="dot g" cx="829.2" cy="1253" r="7.4"/><text class="n" x="852.5" y="1258" textLength="139" lengthAdjust="spacingAndGlyphs">CIVITANOVA MARCHE</text><text x="852.5" y="1276.6" textLength="140" lengthAdjust="spacingAndGlyphs">h 07:20 Casello Autost.</text></g>
<g id="sanbenedetto"><circle class="dot g" cx="829.2" cy="1300" r="7.4"/><text class="n" x="852.5" y="1305.8" textLength="183" lengthAdjust="spacingAndGlyphs">SAN BENEDETTO DEL TRONTO</text><text x="852.5" y="1324" textLength="140" lengthAdjust="spacingAndGlyphs">h 08:10 Casello Autost.</text></g>
<g id="giulianova"><circle class="dot g" cx="829.2" cy="1348" r="7.4"/><text class="n" x="852.5" y="1353" textLength="81" lengthAdjust="spacingAndGlyphs">GIULIANOVA</text><text x="852.5" y="1372" textLength="140" lengthAdjust="spacingAndGlyphs">h 08:30 Casello Autost.</text></g>
<g id="pescara"><circle class="dot g" cx="829.2" cy="1395.7" r="7.4"/><text class="n" x="852.5" y="1401" textLength="137.6" lengthAdjust="spacingAndGlyphs">PESCARA VILLA NOVA</text><text x="852.5" y="1419" textLength="140" lengthAdjust="spacingAndGlyphs">h 09:00 Casello Autost.</text></g>
<g id="sulmona"><circle class="dot g" cx="829.2" cy="1443" r="7.4"/><text class="n" x="852.5" y="1448" textLength="66" lengthAdjust="spacingAndGlyphs">SULMONA</text><text x="852.5" y="1466.7" textLength="140" lengthAdjust="spacingAndGlyphs">h 09:30 Casello Autost.</text></g>
<g id="avezzano"><circle class="ring rg" cx="829.2" cy="1490.8" r="8.4"/><text class="n" x="852.5" y="1496" textLength="68" lengthAdjust="spacingAndGlyphs">AVEZZANO</text><text x="852.5" y="1513.7" textLength="140" lengthAdjust="spacingAndGlyphs">h 10:00 Casello Autost.</text></g>
<g id="roma3"><circle class="ring rg" cx="830" cy="1576" r="8.4"/><text class="n" x="851" y="1583.6" textLength="41" lengthAdjust="spacingAndGlyphs">ROMA</text><text x="851" y="1601.8" textLength="103" lengthAdjust="spacingAndGlyphs">h 10:10 Stazione</text><text x="851" y="1621" textLength="53" lengthAdjust="spacingAndGlyphs">Tiburtina</text><text x="851" y="1640" textLength="95" lengthAdjust="spacingAndGlyphs">Tibus Box N° 16</text></g>
<g id="sora"><circle class="dot g" cx="829.2" cy="1659" r="7.4"/><text class="n" x="852.5" y="1665" textLength="35" lengthAdjust="spacingAndGlyphs">SORA</text><text x="852.5" y="1684" textLength="48" lengthAdjust="spacingAndGlyphs">h 10:40</text><text x="852.5" y="1702" textLength="99.6" lengthAdjust="spacingAndGlyphs">Usc. Superstrada</text></g>
<g id="cassino"><circle class="ring rg" cx="751.7" cy="1712" r="8.4"/><text class="n" x="746.7" y="1742" textLength="57" lengthAdjust="spacingAndGlyphs">CASSINO</text><text x="746.7" y="1761" textLength="48" lengthAdjust="spacingAndGlyphs">h 11:25</text><text x="746.7" y="1779" textLength="87.5" lengthAdjust="spacingAndGlyphs">Casello Autost.</text></g>

<g id="sansepolcro"><circle class="dot g" cx="1078.9" cy="854.3" r="7.4"/><text class="n" x="1102.3" y="859.6" textLength="94" lengthAdjust="spacingAndGlyphs">SANSEPOLCRO</text><text x="1102.3" y="878" textLength="155" lengthAdjust="spacingAndGlyphs">h 05:40 Uscita superstrada</text></g>
<g id="castello"><circle class="dot g" cx="1078.9" cy="908.6" r="7.4"/><text class="n" x="1102.3" y="914" textLength="120.5" lengthAdjust="spacingAndGlyphs">CITTA’ DI CASTELLO</text><text x="1102.3" y="932" textLength="152" lengthAdjust="spacingAndGlyphs">h 05:55 Parcheggio stadio</text></g>
<g id="umbertide"><circle class="dot g" cx="1078.9" cy="968" r="7.4"/><text class="n" x="1102.3" y="973" textLength="76" lengthAdjust="spacingAndGlyphs">UMBERTIDE</text><text x="1102.3" y="992" textLength="156.5" lengthAdjust="spacingAndGlyphs">h 06:10 Uscita Superstrada</text><text x="1102.3" y="1011" textLength="93" lengthAdjust="spacingAndGlyphs">Zona Industriale</text></g>
<g id="perugia"><circle class="dot g" cx="1078.9" cy="1041" r="7.4"/><text class="n" x="1102.3" y="1045.7" textLength="57" lengthAdjust="spacingAndGlyphs">PERUGIA</text><text x="1102.3" y="1064" textLength="126" lengthAdjust="spacingAndGlyphs">h 06:55 Piazzale Bove</text></g>
<g id="smaria"><circle class="dot g" cx="1078.9" cy="1094.7" r="7.4"/><text class="n" x="1102.3" y="1100" textLength="150" lengthAdjust="spacingAndGlyphs">S. MARIA DEGLI ANGELI</text><text x="1102.3" y="1118" textLength="136" lengthAdjust="spacingAndGlyphs">h 07:10 Hotel Antonelli</text></g>
<g id="foligno"><circle class="dot g" cx="1078.9" cy="1148.6" r="7.4"/><text class="n" x="1102.3" y="1154" textLength="58" lengthAdjust="spacingAndGlyphs">FOLIGNO</text><text x="1102.3" y="1172" textLength="115" lengthAdjust="spacingAndGlyphs">h 07:25 Stazione FS</text></g>
<g id="rieti"><circle class="dot g" cx="1078.9" cy="1202.4" r="7.4"/><text class="n" x="1102.3" y="1207.5" textLength="29.4" lengthAdjust="spacingAndGlyphs">RIETI</text><text x="1102.3" y="1226" textLength="130" lengthAdjust="spacingAndGlyphs">h 07:25 Porta Romana</text></g>
<g id="spoleto"><circle class="dot g" cx="1078.9" cy="1256" r="7.4"/><text class="n" x="1102.3" y="1261" textLength="54" lengthAdjust="spacingAndGlyphs">SPOLETO</text><text x="1102.3" y="1279.5" textLength="172" lengthAdjust="spacingAndGlyphs">h 07:55 Bivio Monteleuco API</text></g>
<g id="viterbo"><circle class="dot g" cx="1078.9" cy="1310" r="7.4"/><text class="n" x="1102.3" y="1315" textLength="53" lengthAdjust="spacingAndGlyphs">VITERBO</text><text x="1102.3" y="1333.6" textLength="115" lengthAdjust="spacingAndGlyphs">h 08:25 Stazione FS</text><text x="1102.3" y="1352.8" textLength="91" lengthAdjust="spacingAndGlyphs">Porta Fiorentina</text></g>
<g id="terni"><circle class="dot g" cx="1080" cy="1382.8" r="7.4"/><text class="n" x="1100.6" y="1388" textLength="37" lengthAdjust="spacingAndGlyphs">TERNI</text><text x="1100.6" y="1407" textLength="156" lengthAdjust="spacingAndGlyphs">h 08:25 Terminal BUS ATC</text></g>
<g id="narni"><circle class="dot g" cx="1080" cy="1437" r="7.4"/><text class="n" x="1100.6" y="1441.6" textLength="87" lengthAdjust="spacingAndGlyphs">NARNI SCALO</text><text x="1100.6" y="1459.7" textLength="139" lengthAdjust="spacingAndGlyphs">h 08:40 Bivio Capitone</text></g>
<g id="orte7"><circle class="dot g" cx="1080" cy="1490.8" r="7.4"/><text class="n" x="1100.6" y="1496" textLength="32" lengthAdjust="spacingAndGlyphs">ORTE</text><text x="1100.6" y="1513.7" textLength="139" lengthAdjust="spacingAndGlyphs">h 08:55 Casello Autost.</text></g>

<g id="calendario">
<text x="1018" y="1572" textLength="276" lengthAdjust="spacingAndGlyphs" style="font-size:23.5px;fill:#0b80c4;font-weight:400">CALENDARIO PARTENZE</text>
<path class="rule" d="M1018 1584H1294M1018 1606.7H1294M1018 1629.3H1294M1018 1652H1294M1018 1674.6H1294M1018 1697H1294M1018 1720H1294M1018 1742.7H1294M1018 1765.7H1294"/>
<text class="n" x="1021.7" y="1602" textLength="40" lengthAdjust="spacingAndGlyphs">Marzo</text><text class="c" x="1111.8" y="1602" textLength="7.5" lengthAdjust="spacingAndGlyphs">7</text><text class="c" x="1155.6" y="1602" textLength="15.5" lengthAdjust="spacingAndGlyphs">14</text><text class="c" x="1199" y="1602" textLength="15.5" lengthAdjust="spacingAndGlyphs">21</text><text class="c" x="1236.7" y="1602" textLength="15.5" lengthAdjust="spacingAndGlyphs">28</text>
<text class="n" x="1021.7" y="1624.7" textLength="38" lengthAdjust="spacingAndGlyphs">Aprile</text><text class="c" x="1112" y="1624.7" textLength="15" lengthAdjust="spacingAndGlyphs">3*</text><text class="c" x="1155.6" y="1624.7" textLength="13" lengthAdjust="spacingAndGlyphs">11</text><text class="c" x="1199" y="1624.7" textLength="15.5" lengthAdjust="spacingAndGlyphs">18</text><text class="c" x="1236.7" y="1624.7" textLength="15.5" lengthAdjust="spacingAndGlyphs">25</text>
<text class="n" x="1021.7" y="1647.3" textLength="48.5" lengthAdjust="spacingAndGlyphs">Maggio</text><text class="c" x="1111.8" y="1647.3" textLength="7.5" lengthAdjust="spacingAndGlyphs">2</text><text class="c" x="1155.6" y="1647.3" textLength="7.5" lengthAdjust="spacingAndGlyphs">9</text><text class="c" x="1199" y="1647.3" textLength="15.5" lengthAdjust="spacingAndGlyphs">16</text><text class="c" x="1236.7" y="1647.3" textLength="15.5" lengthAdjust="spacingAndGlyphs">23</text><text class="c" x="1275" y="1647.3" textLength="15.5" lengthAdjust="spacingAndGlyphs">30</text>
<text class="n" x="1021.7" y="1670" textLength="46.5" lengthAdjust="spacingAndGlyphs">Giugno</text><text class="c" x="1111.8" y="1670" textLength="7.5" lengthAdjust="spacingAndGlyphs">6</text><text class="c" x="1155.6" y="1670" textLength="15.5" lengthAdjust="spacingAndGlyphs">13</text><text class="c" x="1199" y="1670" textLength="15.5" lengthAdjust="spacingAndGlyphs">20</text><text class="c" x="1236.7" y="1670" textLength="15.5" lengthAdjust="spacingAndGlyphs">27</text>
<text class="n" x="1021.7" y="1693" textLength="39" lengthAdjust="spacingAndGlyphs">Luglio</text><text class="c" x="1111.8" y="1693" textLength="7.5" lengthAdjust="spacingAndGlyphs">4</text><text class="c" x="1155.6" y="1693" textLength="13" lengthAdjust="spacingAndGlyphs">11</text><text class="c" x="1199" y="1693" textLength="15.5" lengthAdjust="spacingAndGlyphs">18</text><text class="c" x="1236.7" y="1693" textLength="15.5" lengthAdjust="spacingAndGlyphs">25</text>
<text class="n" x="1021.7" y="1715" textLength="43.5" lengthAdjust="spacingAndGlyphs">Agosto</text><text class="c" x="1111.8" y="1715" textLength="7.5" lengthAdjust="spacingAndGlyphs">1</text><text class="c" x="1155.6" y="1715" textLength="7.5" lengthAdjust="spacingAndGlyphs">8</text><text class="c" x="1199" y="1715" textLength="15.5" lengthAdjust="spacingAndGlyphs">15</text><text class="c" x="1236.7" y="1715" textLength="15.5" lengthAdjust="spacingAndGlyphs">22</text><text class="c" x="1275" y="1715" textLength="15.5" lengthAdjust="spacingAndGlyphs">29</text>
<text class="n" x="1021.7" y="1738" textLength="66" lengthAdjust="spacingAndGlyphs">Settembre</text><text class="c" x="1111.8" y="1738" textLength="7.5" lengthAdjust="spacingAndGlyphs">5</text><text class="c" x="1155.6" y="1738" textLength="15.5" lengthAdjust="spacingAndGlyphs">12</text><text class="c" x="1199" y="1738" textLength="15.5" lengthAdjust="spacingAndGlyphs">19</text><text class="c" x="1236.7" y="1738" textLength="15.5" lengthAdjust="spacingAndGlyphs">26</text>
<text class="n" x="1021.7" y="1761" textLength="48" lengthAdjust="spacingAndGlyphs">Ottobre</text><text class="c" x="1111.8" y="1761" textLength="7.5" lengthAdjust="spacingAndGlyphs">3</text><text class="c" x="1155.6" y="1761" textLength="15.5" lengthAdjust="spacingAndGlyphs">10</text><text class="c" x="1199" y="1761" textLength="15.5" lengthAdjust="spacingAndGlyphs">17</text><text class="c" x="1236.7" y="1761" textLength="15.5" lengthAdjust="spacingAndGlyphs">24</text><text class="c" x="1275" y="1761" textLength="15.5" lengthAdjust="spacingAndGlyphs">31</text>
<text class="n" x="1021.7" y="1783.8" textLength="66.5" lengthAdjust="spacingAndGlyphs">Novembre</text><text class="c" x="1111.8" y="1783.8" textLength="7.5" lengthAdjust="spacingAndGlyphs">7</text><text class="c" x="1155.6" y="1783.8" textLength="15.5" lengthAdjust="spacingAndGlyphs">14</text><text class="c" x="1199" y="1783.8" textLength="15.5" lengthAdjust="spacingAndGlyphs">21</text><text class="c" x="1236.7" y="1783.8" textLength="15.5" lengthAdjust="spacingAndGlyphs">28</text>
</g>
</svg>
